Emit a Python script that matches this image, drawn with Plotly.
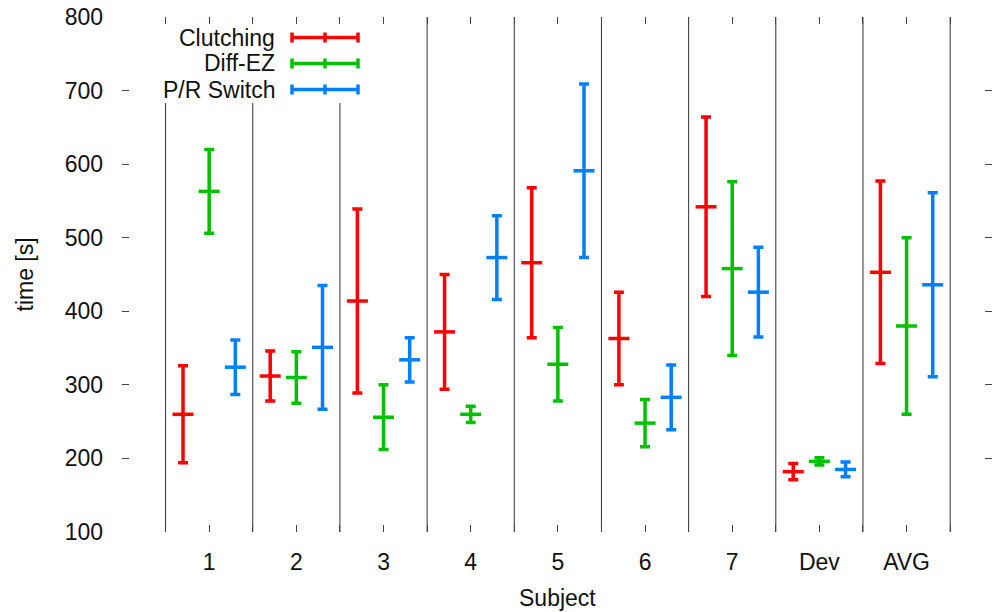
import plotly.graph_objects as go

categories = ["1", "2", "3", "4", "5", "6", "7", "Dev", "AVG"]
series_names = ["Clutching", "Diff-EZ", "P/R Switch"]
clutch_mean = [260, 312, 414, 372, 466, 363, 542, 182, 453]
clutch_err = [66, 34, 125, 78, 102, 63, 122, 11, 124]
diffez_mean = [563, 310, 256, 260, 328, 248, 458, 196, 380]
diffez_err = [57, 35, 44, 11, 50, 32, 118, 5, 120]
pr_mean = [324, 351, 334, 473, 591, 283, 426, 185, 436]
pr_err = [37, 84, 30, 57, 118, 44, 61, 10, 125]
y_ticks = [100, 200, 300, 400, 500, 600, 700, 800]

colors = ["#ff0000", "#00c000", "#0080ff"]
offsets = [-0.3, 0.0, 0.3]
means = [clutch_mean, diffez_mean, pr_mean]
errs = [clutch_err, diffez_err, pr_err]

W, H = 992, 612
ML, MR, MT, MB = 122, 0, 17, 80
PW, PH = W - ML - MR, H - MT - MB
FONT = "Liberation Sans, Arial, sans-serif"
FS = 23
XMAX = 9.98


def px_x(p):
    return (p - ML) / PW


def px_y(p):
    return (H - MB - p) / PH


fig = go.Figure()
for name, col, off, m, e in zip(series_names, colors, offsets, means, errs):
    xs = [i + 1 + off for i in range(len(categories))]
    fig.add_trace(go.Scatter(
        x=xs, y=m, mode="markers", name=name, showlegend=False,
        marker=dict(symbol="line-ew", size=15, color=col,
                    line=dict(color=col, width=3.5)),
        error_y=dict(type="data", array=e, visible=True, color=col,
                     thickness=3.5, width=5),
    ))

# separators between subjects
legend_bottom = px_y(103)
legend_right = 365
shapes = []
for k in range(len(categories) + 1):
    xv = k + 0.5
    xpix = ML + xv * PW / XMAX
    top = legend_bottom if xpix < legend_right else 1
    shapes.append(dict(type="line", xref="x", yref="paper", x0=xv, x1=xv,
                       y0=0, y1=top, line=dict(color="#333333", width=1),
                       layer="below"))

# manual legend (gnuplot style: text right-aligned, sample to its right)
rows = [37.5, 63.5, 89.5]
annotations = []
for name, col, py in zip(series_names, colors, rows):
    yv = px_y(py)
    annotations.append(dict(text=name, xref="paper", yref="paper",
                            x=px_x(277), y=yv, xanchor="right", yanchor="middle",
                            showarrow=False, font=dict(family=FONT, size=FS, color="#111")))
    shapes.append(dict(type="line", xref="paper", yref="paper",
                       x0=px_x(292), x1=px_x(358), y0=yv, y1=yv,
                       line=dict(color=col, width=3.5)))
    for xp in (292, 325, 358):
        shapes.append(dict(type="line", xref="paper", yref="paper",
                           x0=px_x(xp), x1=px_x(xp), y0=px_y(py - 5), y1=px_y(py + 5),
                           line=dict(color=col, width=3.5)))

annotations.append(dict(text="Subject", xref="paper", yref="paper",
                        x=0.5, y=px_y(598), xanchor="center", yanchor="middle",
                        showarrow=False, font=dict(family=FONT, size=FS, color="#111")))
annotations.append(dict(text="time [s]", xref="paper", yref="paper",
                        x=px_x(24), y=0.5, xanchor="center", yanchor="middle",
                        textangle=-90, showarrow=False,
                        font=dict(family=FONT, size=FS, color="#111")))

tickvals = [i * 0.5 for i in range(0, 20)]
ticktext = []
for v in tickvals:
    if v == int(v) and 1 <= int(v) <= len(categories):
        ticktext.append(categories[int(v) - 1])
    else:
        ticktext.append("")

fig.update_layout(
    width=W, height=H,
    margin=dict(l=ML, r=MR, t=MT, b=MB),
    plot_bgcolor="white", paper_bgcolor="white",
    font=dict(family=FONT, size=FS, color="#111"),
    shapes=shapes, annotations=annotations,
    xaxis=dict(range=[0, XMAX], tickvals=tickvals, ticktext=ticktext,
               ticks="inside", ticklen=7, tickwidth=1, tickcolor="#444",
               mirror="ticks", showline=False, showgrid=False, zeroline=False,
               ticklabelstandoff=14),
    yaxis=dict(range=[100, 800], tickvals=y_ticks,
               ticks="inside", ticklen=7, tickwidth=1, tickcolor="#444",
               mirror="ticks", showline=False, showgrid=False, zeroline=False,
               ticklabelstandoff=18),
)

fig.write_html("out.html", config={"displayModeBar": False},
               post_script="document.body.style.margin='0';document.body.style.overflow='hidden';")
